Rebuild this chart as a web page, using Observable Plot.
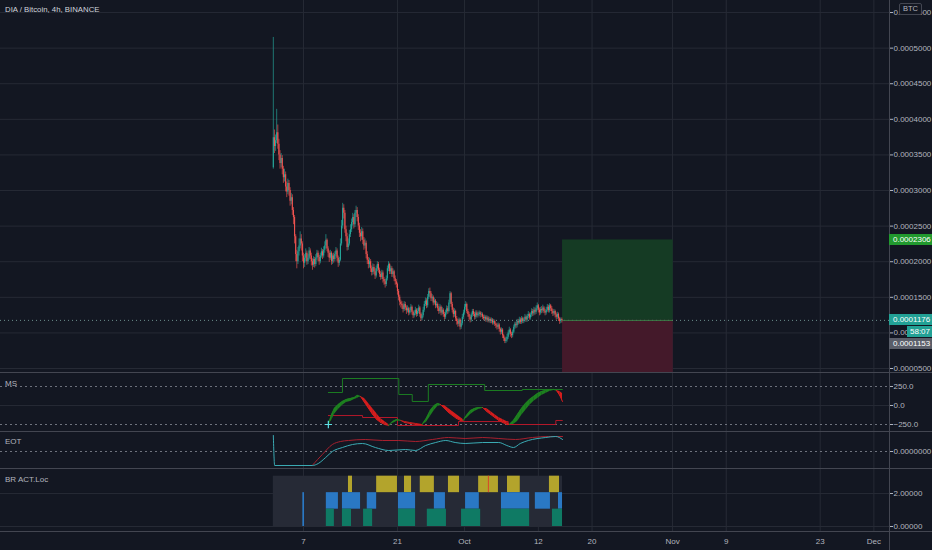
<!DOCTYPE html>
<html><head><meta charset="utf-8">
<script src="https://cdn.jsdelivr.net/npm/d3@7"></script>
<script src="https://cdn.jsdelivr.net/npm/@observablehq/plot@0.6"></script>
<style>
html,body{margin:0;padding:0;background:#131722;}
#chart{position:relative;width:932px;height:550px;background:#131722;overflow:hidden;font-family:"Liberation Sans",Arial,sans-serif;}
.lbl{position:absolute;color:#b2b5be;font-size:8px;white-space:nowrap;line-height:10px;}
.tag{position:absolute;height:11px;line-height:11px;font-size:8px;color:#fff;white-space:nowrap;box-sizing:border-box;}
.sep{position:absolute;background:#434651;}
</style></head><body><div id="chart"></div>
<script>
// ---------- data ----------
const title = "DIA / Bitcoin, 4h, BINANCE";
const tickDays = [6, 20, 30, 41, 49, 61, 69, 83, 91];          // days since 1 Sep
const tickLabels = ["7", "21", "Oct", "12", "20", "Nov", "9", "23", "Dec"];
const priceTicks = [50, 100, 150, 200, 250, 300, 350, 400, 450, 500, 550]; // 1e-6 BTC
const candleStartDay = 1.5;
const candlesPerDay = 6;
const firstOpen = 332;
const closes = [374,362,370,381,365, 350,338,345,330,318, 322,305,298,310,300, 285,290,272,262,235,
210,200,214,222,232, 225,208,198,205,212, 200,205,215,208,200, 195,203,196,205,212,
206,200,208,214,208, 216,222,230,218,212, 205,212,200,208,203, 210,215,205,198,202,
225,250,275,268,245, 235,220,225,238,245, 255,262,252,268,272, 262,250,240,235,242,
230,222,226,210,202, 196,200,190,185,192, 186,180,190,196,188, 182,178,184,175,172,
168,176,190,196,186, 190,182,186,176,172, 168,158,150,143,140, 138,133,140,135,131,
134,128,131,136,129, 124,127,132,126,130, 135,126,120,124,132, 140,145,138,150,158,
155,148,150,142,145, 138,140,134,130,136, 128,132,126,122,128, 134,130,142,155,140,
132,126,130,120,116, 112,118,108,113,122, 128,136,140,130,126, 122,118,125,130,126,
122,128,124,126,128, 125,126,122,120,122, 118,121,117,119,116, 118,114,116,112,110,
108,111,105,101,104, 96,92,88,90,94, 100,104,98,96,101, 108,112,110,116,114,
118,115,120,116,118, 122,118,123,126,121, 125,130,127,132,129, 134,138,132,128,133,
131,135,130,128,132, 136,131,138,134,130, 127,130,125,122,126, 120,116,119,117.6];
const highs = [515,385,378,414,392, 372,356,352,349,334, 330,326,312,316,314, 304,296,294,276,265,
238,216,220,232,242, 238,228,212,210,218, 215,210,220,218,212, 204,207,206,210,216,
215,209,212,219,217, 221,228,238,232,221, 215,216,214,211,212, 214,220,218,208,206,
232,258,282,280,272, 250,240,232,244,252, 260,268,266,272,278, 276,266,254,245,248,
246,234,232,229,214, 206,205,203,194,197, 196,190,194,200,199, 191,186,188,187,178,
175,180,194,200,198, 194,193,190,188,180, 175,170,161,153,146, 144,141,144,143,138,
138,136,135,140,138, 131,131,136,134,134, 139,137,128,128,136, 144,149,148,154,162,
163,158,154,152,149, 147,144,142,137,140, 138,136,134,129,132, 138,137,146,158,157,
143,135,134,132,123, 119,121,120,117,126, 132,140,144,142,133, 129,125,128,133,133,
129,131,131,129,131, 130,129,128,125,125, 124,124,123,122,121, 121,120,119,118,114,
113,114,113,107,107, 106,98,94,94,98, 103,108,106,101,104, 111,115,115,119,119,
122,121,123,122,121, 126,124,126,130,128, 128,134,133,136,135, 138,142,140,135,136,
137,139,137,133,136, 140,139,141,140,137, 133,133,132,128,129, 128,122,121,121];
const lows = [330,352,355,366,358, 342,330,332,322,310, 312,298,290,294,292, 278,280,265,252,225,
200,190,196,208,218, 215,200,190,192,200, 195,196,202,203,194, 188,192,191,193,202,
200,195,197,205,203, 205,212,218,214,206, 199,202,195,196,198, 200,207,200,192,194,
200,222,246,260,240, 228,215,216,222,234, 241,250,246,248,262, 256,244,234,228,230,
224,216,218,204,196, 190,191,185,180,181, 182,175,177,186,184, 178,174,175,170,167,
163,165,173,186,182, 182,178,178,172,167, 163,153,145,138,135, 133,128,130,131,126,
128,124,125,128,125, 120,121,124,122,123, 127,122,116,117,121, 129,137,134,135,147,
150,144,144,138,139, 134,135,130,126,127, 124,125,122,118,119, 125,126,128,140,136,
128,121,122,116,111, 108,109,104,105,110, 119,125,132,127,122, 118,114,115,122,123,
118,119,121,121,123, 121,122,119,117,117, 115,115,114,114,113, 113,111,111,109,106,
104,105,101,97,98, 92,88,85,85,87, 91,97,94,92,93, 99,105,106,107,111,
112,112,112,113,113, 115,115,115,120,118, 118,122,123,124,125, 126,131,128,124,125,
127,128,127,124,125, 129,128,128,130,126, 123,124,121,118,119, 116,112,113,114];
const targetPrice = 230.6, entryPrice = 117.6, stopPrice = 44.4, markPrice = 115.3;
const positionDays = [44.6, 61.1];
const countdown = "58:07";

// MS indicator
const msTicks = [250, 0, -250];
const msDays = [9.7,10.2,10.6,11.2,11.8,12.4,13.0,13.6,14.0,14.5, 15.1,15.7,16.3,16.9,17.5,18.1,18.7,
19.3,19.9,20.5,21.1,21.9,22.8,23.7, 24.3,24.9,25.5,26.0,26.4, 27.0,27.6,28.2,28.8,29.4,29.8,
30.3,30.9,31.5,32.1,32.7, 33.3,33.9,34.5,35.1,35.7,36.3,36.7,
37.3,37.9,38.5,39.1,39.7,40.3,40.9,41.5,42.1,42.7,43.3,43.7, 44.2,44.6];
const msFast = [-250,-118,-39,13,53,79,92,105,132,118, 39,-39,-118,-184,-224,-250,-263,
-211,-184,-197,-224,-237,-250,-250, -171,-66,0,26,13, -39,-92,-132,-171,-197,-197,
-132,-66,-39,-26,-26, -79,-118,-158,-197,-224,-250,-250,
-197,-118,-39,26,79,118,158,184,197,211,211,197, 132,53];
const msSlow = [-250,-197,-118,-53,0,39,53,79,92,118, 92,26,-39,-105,-171,-211,-250,
-237,-211,-197,-211,-224,-237,-250, -224,-145,-66,-13,0, 0,-39,-79,-118,-158,-184,
-171,-118,-79,-53,-39, -39,-79,-118,-158,-184,-211,-250,
-250,-211,-132,-66,0,53,92,132,158,184,197,197, 184,158];
const msUpperDays = [9.7, 11.8, 20.2, 22.2, 24.6, 33.0, 38.6, 44.6];
const msUpperVals = [171, 355, 145, 53, 276, 197, 211, 211];
const msLowerDays = [9.7, 14.8, 20.0, 29.1, 36.5, 43.6, 44.6];
const msLowerVals = [-132, -158, -263, -211, -250, -197, -197];
const msSignal = [{d: 9.7, v: -250}];

// EOT indicator
const eotTicks = [0];
const eotCyanDays = [1.5,1.7,7.3,8.2,9.3,10.3,11.8,13.3,14.8,16.7,18.7,21.2,22.7,24.2,25.7,27.2,28.6,30.1,32.7,35.1,36.3,37.3,38.3,39.5,42.1,43.6,44.6];
const eotCyanVals = [1.6,-1.4,-1.4,-1.2,-0.6,0.0,0.4,0.7,0.8,0.4,0.1,0.2,0.1,0.6,0.9,1.1,0.9,0.8,0.9,0.9,0.6,0.4,0.8,1.1,1.4,1.5,1.2];
const eotRedDays = [7.3,8.1,8.8,10.3,11.5,12.7,15.2,17.8,20.2,22.7,25.2,27.6,30.1,32.7,35.1,37.6,40.1,42.5,44.6];
const eotRedVals = [-1.4,-0.8,-0.3,0.7,1.0,1.1,1.2,1.1,1.1,1.0,1.2,1.4,1.3,1.4,1.3,1.2,1.4,1.5,1.5];

// BR ACT.Loc indicator
const brTicks = [2, 0];
const brRange = [1.5, 44.6];
const brYellow = [[12.7,13.3],[16.9,20.0],[21.05,22.1],[23.4,25.5],[27.6,29.25],[32.1,35.05],[36.4,38.3],[42.65,44.15]];
const brBlue = [[9.4,11.2],[11.8,14.5],[15.5,16.9],[20.15,22.7],[25.5,27.15],[30.15,32.2],[35.5,39.7],[40.55,42.8],[44.0,44.6]];
const brBlueFull = [[5.9,6.15]];
const brGreen = [[9.4,10.6],[11.8,13.15],[14.95,16.3],[20.15,22.7],[24.45,27.3],[29.55,32.4],[35.5,39.7],[43.1,44.6]];
const brRedMark = [33.55];

// ---------- drawing ----------
const W = 932, RM = 43;
const xDomain = [-39.16, 93.33];
const FONT = "Liberation Sans, Arial, sans-serif";
const GRID = "#262a35";
const UP = "#26a69a", DN = "#ef5350";
const chart = document.getElementById("chart");

function makePane(top, h, yDomain, marks, yAxis) {
  const p = Plot.plot({
    width: W, height: h, marginLeft: 0, marginRight: RM, marginTop: 0, marginBottom: 0,
    x: {domain: xDomain, axis: null},
    y: yAxis === false ? {domain: yDomain, axis: null} : {domain: yDomain, label: null},
    color: {type: "identity"},
    style: {background: "none", color: "#b2b5be", fontSize: "8px", fontFamily: FONT, overflow: "visible"},
    marks
  });
  p.style.position = "absolute"; p.style.left = "0px"; p.style.top = top + "px";
  chart.appendChild(p);
  return p;
}
const rightAxis = (ticks, fmt) => Plot.axisY(ticks, {anchor: "right", tickFormat: fmt, tickSize: 3, tickPadding: 1, fontSize: 8, label: null});

// main pane
const candles = closes.map((c, i) => ({d: candleStartDay + i / candlesPerDay, o: i ? closes[i - 1] : firstOpen, c, h: highs[i], l: lows[i]}));
const priceFmt = v => (v / 1e6).toFixed(7);
const main = makePane(0, 372, [44.4, 566.9], [
  Plot.ruleX(tickDays, {stroke: GRID}),
  Plot.ruleY(priceTicks, {stroke: GRID}),
  Plot.rect([{x1: positionDays[0], x2: positionDays[1], y1: entryPrice, y2: targetPrice}], {x1: "x1", x2: "x2", y1: "y1", y2: "y2", fill: "#153b24"}),
  Plot.rect([{x1: positionDays[0], x2: positionDays[1], y1: stopPrice, y2: entryPrice}], {x1: "x1", x2: "x2", y1: "y1", y2: "y2", fill: "#44192a"}),
  Plot.ruleY([entryPrice], {stroke: "#6c8f8c", strokeDasharray: "1,3"}),
  Plot.ruleY([entryPrice], {x1: positionDays[0], x2: positionDays[1], stroke: "#3a7a45"}),
  Plot.ruleX(candles, {x: "d", y1: "l", y2: "h", stroke: d => d.c >= d.o ? UP : DN, strokeWidth: 0.9, strokeOpacity: 0.75}),
  Plot.ruleX(candles, {x: "d", y1: "o", y2: "c", stroke: d => d.c >= d.o ? UP : DN, strokeWidth: 1.1}),
  rightAxis(priceTicks, priceFmt)
]);

// MS pane
const ms = msDays.map((d, i) => ({d, f: msFast[i], s: msSlow[i]}));
const ribbon = [];
for (let i = 0; i < ms.length - 1; i++) {
  const a = ms[i], b = ms[i + 1];
  const col = (a.f + b.f) >= (a.s + b.s) ? "#1d801f" : "#d41d1d";
  ribbon.push({...a, seg: i, col}, {...b, seg: i, col});
}
makePane(372, 59, [-342, 434], [
  Plot.ruleX(tickDays, {stroke: GRID}),
  Plot.ruleY([0], {stroke: GRID}),
  Plot.ruleY([250, -250], {stroke: "#6f737e", strokeDasharray: "2,3"}),
  Plot.line(msUpperDays.map((d, i) => ({d, v: msUpperVals[i]})), {x: "d", y: "v", curve: "step-after", stroke: "#1c7d22", strokeWidth: 1}),
  Plot.line(msLowerDays.map((d, i) => ({d, v: msLowerVals[i]})), {x: "d", y: "v", curve: "step-after", stroke: "#b3182a", strokeWidth: 1}),
  Plot.areaY(ribbon, {x: "d", y1: "f", y2: "s", z: "seg", fill: "col", curve: "linear"}),
  Plot.line(ribbon, {x: "d", y: "f", z: "seg", stroke: "col", strokeWidth: 1}),
  Plot.dot(msSignal, {x: "d", y: "v", symbol: "plus", r: 2.5, stroke: "#5ee0e6", strokeWidth: 1.2}),
  rightAxis(msTicks, d3.format(".1f"))
]);

// EOT pane
makePane(431, 37, [-1.7, 2.0], [
  Plot.ruleX(tickDays, {stroke: GRID}),
  Plot.ruleY([0], {stroke: "#6f737e", strokeDasharray: "2,3"}),
  Plot.line(eotRedDays.map((d, i) => ({d, v: eotRedVals[i]})), {x: "d", y: "v", stroke: "#a8202e", strokeWidth: 1, curve: "monotone-x"}),
  Plot.line(eotCyanDays.map((d, i) => ({d, v: eotCyanVals[i]})), {x: "d", y: "v", stroke: "#3aaab3", strokeWidth: 1, curve: "monotone-x"}),
  rightAxis(eotTicks, v => v.toFixed(7))
]);

// BR ACT.Loc pane
const spans = (arr, y1, y2, fill) => Plot.rect(arr, {x1: d => d[0], x2: d => d[1], y1, y2, fill});
makePane(468, 63, [-0.303, 3.515], [
  Plot.ruleX(tickDays, {stroke: GRID}),
  Plot.ruleY(brTicks, {stroke: GRID}),
  spans([brRange], 0, 3.05, "#262a36"),
  spans(brYellow, 2.05, 3.05, "#b3a42c"),
  spans(brBlue, 1.05, 2.05, "#2a78c4"),
  spans(brBlueFull, 0, 2.05, "#2a78c4"),
  spans(brGreen, 0, 1.05, "#0f7a64"),
  Plot.ruleX(brRedMark, {y1: 2.05, y2: 3.05, stroke: "#d8462a", strokeWidth: 1}),
  rightAxis(brTicks, d3.format(".5f"))
]);

// x axis
makePane(531, 19, [0, 1], [
  Plot.text(tickDays, {x: d => d, text: (d, i) => tickLabels[i], frameAnchor: "middle", fill: "#b2b5be", fontSize: 8})
], false);

// separators
function sep(l, t, w, h) { const e = document.createElement("div"); e.className = "sep"; Object.assign(e.style, {left: l + "px", top: t + "px", width: w + "px", height: h + "px"}); chart.appendChild(e); }
[372, 431, 468, 531].forEach(t => sep(0, t, W, 1));
sep(W - RM, 0, 1, 550);

// labels
function lbl(text, l, t, extra) { const e = document.createElement("div"); e.className = "lbl"; e.textContent = text; Object.assign(e.style, {left: l + "px", top: t + "px"}, extra || {}); chart.appendChild(e); return e; }
lbl(title, 5, 5, {fontSize: "7.8px", color: "#d1d4dc"});
lbl("MS", 5, 379);
lbl("EOT", 5, 437);
lbl("BR ACT.Loc", 5, 475);

// price tags
const ys = main.scale("y");
function tag(text, price, bg, left, topOverride) {
  const e = document.createElement("div"); e.className = "tag"; e.textContent = text;
  const top = topOverride != null ? topOverride : ys.apply(price) - 5.5;
  Object.assign(e.style, {left: left + "px", top: top + "px", width: (W - left) + "px", background: bg, paddingLeft: (left === W - RM ? 4 : 3) + "px"});
  chart.appendChild(e); return e;
}
tag(priceFmt(targetPrice), targetPrice, "#21992e", W - RM);
const entryTop = ys.apply(entryPrice) - 5.5;
tag(priceFmt(entryPrice), entryPrice, "#22a195", W - RM);
tag(countdown, entryPrice, "#22a195", 907, entryTop + 12);
tag(priceFmt(markPrice), markPrice, "#5a5e69", W - RM, entryTop + 24);

// BTC box
lbl("BTC", 899, 3, {fontSize: "7.5px", border: "1px solid #434651", background: "#131722", padding: "0 3px", borderRadius: "2px", lineHeight: "10px"});
</script></body></html>
